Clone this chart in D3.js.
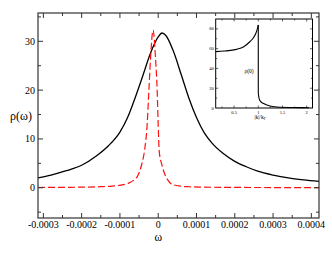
<!DOCTYPE html>
<html><head><meta charset="utf-8">
<script src="https://cdn.jsdelivr.net/npm/d3@7"></script>
<style>body{margin:0;background:#fff}svg{display:block}text{font-family:"Liberation Serif","DejaVu Serif",serif}</style>
</head><body><svg id="c" width="332" height="257"></svg>
<script>
// ---- data ----
const blackW = [-3.14e-4,-2.8e-4,-2.4e-4,-2.0e-4,-1.6e-4,-1.3e-4,-1.0e-4,-8e-5,-6e-5,-4e-5,-2e-5,0,1e-5,2e-5,4e-5,6e-5,8e-5,1.0e-4,1.2e-4,1.4e-4,1.7e-4,2.0e-4,2.3e-4,2.6e-4,3.0e-4,3.4e-4,3.8e-4,4.2e-4];
const blackV = [2.0,2.6,3.5,4.6,6.6,8.6,11.4,14.4,18.5,23.0,27.6,30.9,31.7,31.2,27.9,23.2,18.4,14.4,11.3,9.2,7.0,5.4,4.3,3.4,2.6,2.0,1.6,1.3];
const redW = [-3.14e-4,-2.5e-4,-2.0e-4,-1.5e-4,-1.2e-4,-9.7e-5,-7.9e-5,-6.3e-5,-5.3e-5,-4.4e-5,-3.6e-5,-2.9e-5,-2.45e-5,-2.0e-5,-1.35e-5,-7e-6,-2.6e-6,0,2.7e-6,1.0e-5,1.8e-5,2.5e-5,3.2e-5,4.5e-5,6e-5,8e-5,1.2e-4,2.0e-4,3.0e-4,4.2e-4];
const redV = [0.05,0.08,0.12,0.22,0.35,0.55,0.9,1.6,2.5,4.5,7.5,12.8,19.7,26.5,32.3,26.5,19.7,12.8,7.4,4.6,2.6,1.6,0.9,0.5,0.3,0.2,0.12,0.07,0.04,0.03];
const xTicks = [-3e-4,-2e-4,-1e-4,0,1e-4,2e-4,3e-4,4e-4];
const xTickLabels = ["-0.0003","-0.0002","-0.0001","0","0.0001","0.0002","0.0003","0.0004"];
const yTicks = [0,10,20,30];
const yTickLabels = ["0","10","20","30"];
// inset
const insetK1 = [0.12,0.3,0.55,0.7,0.825,0.9,0.948,0.975,1.0];
const insetV1 = [57,57.6,59.3,62,67,71,75.4,79,84];
const insetDropK = [1.0,1.0];
const insetDropV = [84,15];
const insetK2 = [1.0,1.02,1.05,1.1,1.24,1.44,1.7,2.05];
const insetV2 = [15,9,6.5,4.8,2,0.7,0.45,0.3];
const insetXTicks = [0.5,1,1.5,2];
const insetXTickLabels = ["0.5","1","1.5","2"];
const insetYTicks = [0,20,40,60,80];
const insetYTickLabels = ["0","20","40","60","80"];

const svg = d3.select("#c");
svg.append("rect").attr("width",332).attr("height",257).attr("fill","#fff");

// ---- main plot ----
const L=38,R=319,T=13,B=218;
const x = d3.scaleLinear().domain([-3.14e-4,4.2e-4]).range([L,R]);
const y = d3.scaleLinear().domain([-6.2,35.8]).range([B,T]);

const line = d3.line().x(d=>x(d[0])).y(d=>y(d[1])).curve(d3.curveMonotoneX);
svg.append("path").datum(blackW.map((w,i)=>[w,blackV[i]])).attr("d",line)
  .attr("fill","none").attr("stroke","#000").attr("stroke-width",1.3);
svg.append("path").datum(redW.map((w,i)=>[w,redV[i]])).attr("d",line)
  .attr("fill","none").attr("stroke","#ff1010").attr("stroke-width",1.2).attr("stroke-dasharray","7,3");

// ticks
const g = svg.append("g").attr("stroke","#333").attr("stroke-width",1);
const xMinor = d3.range(-3e-4,4.2e-4,5e-5);
xMinor.forEach((v,i)=>{
  const major = xTicks.some(t=>Math.abs(t-v)<1e-9);
  const len = major?5:3;
  g.append("line").attr("x1",x(v)).attr("x2",x(v)).attr("y1",B).attr("y2",B-len);
  g.append("line").attr("x1",x(v)).attr("x2",x(v)).attr("y1",T).attr("y2",T+len);
});
d3.range(-5,36,5).forEach(v=>{
  const major = yTicks.includes(v);
  const len = major?5:3;
  g.append("line").attr("y1",y(v)).attr("y2",y(v)).attr("x1",L).attr("x2",L+len);
  g.append("line").attr("y1",y(v)).attr("y2",y(v)).attr("x1",R).attr("x2",R-len);
});
svg.append("rect").attr("x",L).attr("y",T).attr("width",R-L).attr("height",B-T)
  .attr("fill","none").attr("stroke","#333").attr("stroke-width",1.2);

xTicks.forEach((t,i)=>{
  svg.append("text").attr("x",x(t)).attr("y",B+10).attr("text-anchor","middle")
    .attr("font-size",10).text(xTickLabels[i]);
});
yTicks.forEach((t,i)=>{
  svg.append("text").attr("x",L-3).attr("y",y(t)+3.5).attr("text-anchor","end")
    .attr("font-size",10).text(yTickLabels[i]);
});
svg.append("text").attr("x",x(0)).attr("y",240.5).attr("text-anchor","middle").attr("font-size",11.5).text("ω");
svg.append("text").attr("x",21).attr("y",120).attr("text-anchor","middle").attr("font-size",12).text("ρ(ω)");

// ---- inset ----
const iL=215.7,iR=312.5,iT=19,iB=108;
const ix = d3.scaleLinear().domain([0.12,2.12]).range([iL,iR]);
const iy = d3.scaleLinear().domain([0,90]).range([iB,iT]);
svg.append("rect").attr("x",iL).attr("y",iT).attr("width",iR-iL).attr("height",iB-iT)
  .attr("fill","#fff").attr("stroke","#000").attr("stroke-width",1);
const ig = svg.append("g").attr("stroke","#000").attr("stroke-width",0.6);
d3.range(0.25,2.1,0.25).forEach(v=>{
  const major = insetXTicks.some(t=>Math.abs(t-v)<1e-9);
  const len = major?2.5:1.5;
  ig.append("line").attr("x1",ix(v)).attr("x2",ix(v)).attr("y1",iB).attr("y2",iB-len);
  ig.append("line").attr("x1",ix(v)).attr("x2",ix(v)).attr("y1",iT).attr("y2",iT+len);
});
d3.range(10,90,10).forEach(v=>{
  const major = insetYTicks.includes(v);
  const len = major?2.5:1.5;
  ig.append("line").attr("y1",iy(v)).attr("y2",iy(v)).attr("x1",iL).attr("x2",iL+len);
  ig.append("line").attr("y1",iy(v)).attr("y2",iy(v)).attr("x1",iR).attr("x2",iR-len);
});
const iline = d3.line().x(d=>ix(d[0])).y(d=>iy(d[1])).curve(d3.curveMonotoneX);
const iline2 = d3.line().x(d=>ix(d[0])).y(d=>iy(d[1]));
[[insetK1,insetV1,iline],[insetDropK,insetDropV,iline2],[insetK2,insetV2,iline]].forEach(([k,v,f])=>{
  svg.append("path").datum(k.map((kk,i)=>[kk,v[i]])).attr("d",f)
    .attr("fill","none").attr("stroke","#000").attr("stroke-width",1.1);
});
insetXTicks.forEach((t,i)=>{
  svg.append("text").attr("x",ix(t)).attr("y",iB+5.5).attr("text-anchor","middle")
    .attr("font-size",4.5).text(insetXTickLabels[i]);
});
insetYTicks.forEach((t,i)=>{
  svg.append("text").attr("x",iL-2).attr("y",iy(t)+1.6).attr("text-anchor","end")
    .attr("font-size",4.5).text(insetYTickLabels[i]);
});
svg.append("text").attr("x",249).attr("y",73).attr("text-anchor","middle").attr("font-size",5.5).text("ρ(0)");
const kl = svg.append("text").attr("x",260).attr("y",118.5).attr("text-anchor","middle").attr("font-size",5.5);
kl.append("tspan").text("|k|/k");
kl.append("tspan").attr("font-size",3.5).attr("dy",1.5).text("F");
</script></body></html>
